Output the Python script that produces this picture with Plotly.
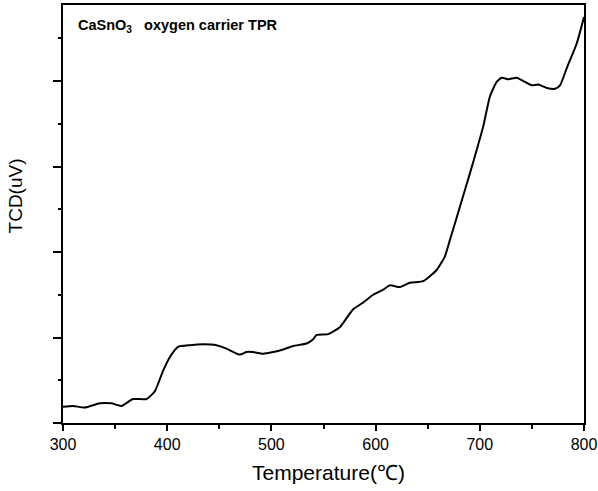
import plotly.graph_objects as go

temperature = [300.0, 309.6, 320.8, 335.2, 346.5, 356.1, 367.2, 380.1, 388.1, 396.0,
               402.5, 410.4, 421.7, 434.4, 447.3, 456.9, 469.7, 476.1, 482.4, 492.0,
               501.7, 511.3, 520.9, 533.7, 540.1, 543.3, 554.5, 565.7, 568.9, 578.5,
               588.1, 597.7, 607.3, 613.7, 623.3, 632.9, 645.7, 658.6, 666.5, 671.3,
               680.9, 690.5, 696.9, 703.3, 709.7, 716.2, 721.0, 727.3, 735.4, 743.3,
               749.8, 756.1, 764.2, 772.2, 777.0, 783.4, 793.0, 800.0]
tcd = [0.19, 0.20, 0.18, 0.23, 0.23, 0.20, 0.28, 0.28, 0.37, 0.61,
       0.77, 0.89, 0.91, 0.92, 0.91, 0.87, 0.80, 0.83, 0.83, 0.81,
       0.83, 0.86, 0.90, 0.93, 0.98, 1.03, 1.04, 1.12, 1.17, 1.33,
       1.41, 1.50, 1.56, 1.61, 1.59, 1.64, 1.66, 1.79, 1.95, 2.14,
       2.53, 2.92, 3.19, 3.47, 3.82, 3.99, 4.04, 4.02, 4.04, 3.99,
       3.95, 3.96, 3.92, 3.91, 3.95, 4.15, 4.44, 4.75]
x_ticks = [300, 400, 500, 600, 700, 800]

fig = go.Figure()
fig.add_trace(go.Scatter(x=temperature, y=tcd, mode="lines",
                         line=dict(color="black", width=2, shape="spline", smoothing=0.5),
                         showlegend=False, hoverinfo="skip"))

font_family = "Liberation Sans, Arial, sans-serif"

fig.update_layout(
    width=598, height=491,
    margin=dict(l=63, r=14, t=5, b=68, autoexpand=False),
    paper_bgcolor="white", plot_bgcolor="white",
    font=dict(family=font_family, color="black"),
    xaxis=dict(range=[300, 800], tickvals=x_ticks, ticks="outside", ticklen=6,
               tickwidth=1.5, tickcolor="black", automargin=False,
               minor=dict(dtick=50, ticks="outside", ticklen=4, tickwidth=1.5, tickcolor="black"),
               showline=True, linecolor="black", linewidth=1.5, mirror=True,
               showgrid=False, zeroline=False,
               tickfont=dict(size=16, family=font_family, color="black")),
    yaxis=dict(range=[0, 4.89], dtick=1, tick0=0, ticks="outside", ticklen=8,
               tickwidth=1.5, tickcolor="black", showticklabels=False, automargin=False,
               minor=dict(dtick=0.5, ticks="outside", ticklen=3, tickwidth=1.5, tickcolor="black"),
               showline=True, linecolor="black", linewidth=1.5, mirror=True,
               showgrid=False, zeroline=False),
    annotations=[
        dict(text="<b>CaSnO<sub>3</sub>&nbsp;&nbsp;&nbsp;oxygen carrier TPR</b>", xref="paper", yref="paper",
             x=0, y=1, xshift=13, yshift=-21, xanchor="left", yanchor="middle",
             showarrow=False, font=dict(size=14.5, family=font_family, color="black")),
        dict(text="Temperature(℃)", xref="paper", yref="paper", x=0.5, y=0,
             xshift=5, yshift=-49, xanchor="center", yanchor="middle", showarrow=False,
             font=dict(size=21, family=font_family, color="black")),
        dict(text="TCD(uV)", xref="paper", yref="paper", x=0, y=0.542,
             xshift=-48, xanchor="center", yanchor="middle", textangle=-90, showarrow=False,
             font=dict(size=19, family=font_family, color="black")),
    ],
)

fig.write_html("out.html", config={"displayModeBar": False},
               post_script="document.body.style.margin='0';")
